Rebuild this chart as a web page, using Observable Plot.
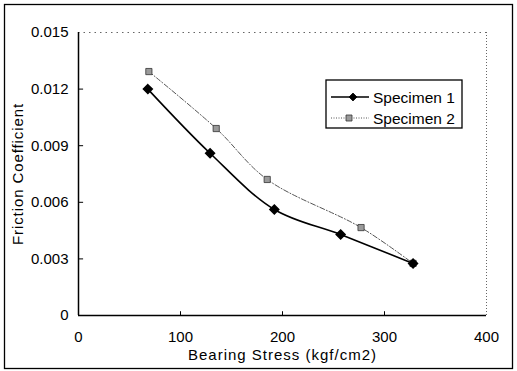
<!DOCTYPE html>
<html>
<head>
<meta charset="utf-8">
<script src="https://cdn.jsdelivr.net/npm/d3@7"></script>
<script src="https://cdn.jsdelivr.net/npm/@observablehq/plot@0.6"></script>
<style>
  html, body { margin: 0; padding: 0; background: #fff; }
  #chart svg { display: block; }
</style>
</head>
<body>
<div id="chart"></div>
<script>
const stress1 = [68, 129, 192, 257, 328];
const friction1 = [0.0120, 0.00860, 0.00562, 0.00429, 0.00276];
const stress2 = [69, 135, 185, 277, 328];
const friction2 = [0.01293, 0.00991, 0.00721, 0.00466, 0.00276];
const seriesNames = ["Specimen 1", "Specimen 2"];
const xTicks = [0, 100, 200, 300, 400];
const yTicks = [0, 0.003, 0.006, 0.009, 0.012, 0.015];
const xTitle = "Bearing Stress (kgf/cm2)";
const yTitle = "Friction Coefficient";

const s1 = stress1.map((x, i) => ({x, y: friction1[i]}));
const s2 = stress2.map((x, i) => ({x, y: friction2[i]}));

const W = 517, H = 371;
const plot = Plot.plot({
  width: W, height: H,
  marginLeft: 78, marginRight: 31, marginTop: 32, marginBottom: 56,
  style: {fontFamily: "'Liberation Sans', Arial, sans-serif", fontSize: "15px", color: "#000", background: "#fff"},
  x: {domain: [0, 400], ticks: xTicks, tickSize: 0, tickPadding: 16, label: null},
  y: {domain: [0, 0.015], ticks: yTicks, tickSize: 0, tickPadding: 10, label: null,
      tickFormat: d => d === 0 ? "0" : d3.format(".3f")(d)},
  marks: [
    Plot.ruleY([0.015], {stroke: "#666", strokeDasharray: "1.5,4"}),
    Plot.ruleX([400], {stroke: "#666", strokeDasharray: "1,2"}),
    Plot.ruleX([0], {stroke: "#000", strokeWidth: 1.5}),
    Plot.ruleY([0], {stroke: "#000", strokeWidth: 1.5}),
    Plot.ruleY(yTicks.slice(1, -1), {x1: 0, x2: 5, stroke: "#000"}),
    Plot.ruleX(xTicks.slice(1, -1), {y1: 0, y2: 0.0002, stroke: "#000"}),
    Plot.line(s2, {x: "x", y: "y", curve: "catmull-rom", stroke: "#555", strokeWidth: 1, strokeDasharray: "5,2,1,2"}),
    Plot.line(s1, {x: "x", y: "y", curve: "catmull-rom", stroke: "#000", strokeWidth: 1.6}),
    Plot.dot(s2, {x: "x", y: "y", symbol: "square", r: 3.5, fill: "#9a9a9a", stroke: "#333", strokeWidth: 0.8}),
    Plot.dot(s1, {x: "x", y: "y", symbol: "diamond2", r: 4, fill: "#000", stroke: "#000"}),
    Plot.text([xTitle], {frameAnchor: "bottom", lineAnchor: "middle", textAnchor: "middle", dy: 40, fill: "#000", fontSize: 15, text: d => d, className: "xtitle"}),
    Plot.text([yTitle], {frameAnchor: "left", lineAnchor: "middle", textAnchor: "middle", dx: -60, rotate: -90, fill: "#000", fontSize: 15, text: d => d, className: "ytitle"})
  ]
});
document.getElementById("chart").appendChild(plot);

const svg = d3.select(plot);
svg.selectAll(".xtitle text").style("letter-spacing", "1px");
svg.selectAll(".ytitle text").style("letter-spacing", "0.9px");
// outer border
svg.append("rect").attr("x", 4.5).attr("y", 4.5).attr("width", 508).attr("height", 364)
  .attr("fill", "none").attr("stroke", "#000").attr("stroke-width", 1.3);
// legend
const lg = svg.append("g").attr("text-anchor", "start");
lg.append("rect").attr("x", 326).attr("y", 80).attr("width", 136).attr("height", 48)
  .attr("fill", "#fff").attr("stroke", "#000").attr("stroke-width", 1.3);
const rows = [
  {y: 97, stroke: "#000", dash: null, sw: 1.6, sym: d3.symbolDiamond2, size: 40, fill: "#000", st: "#000", cx: 353},
  {y: 118, stroke: "#555", dash: "1,1.5", sw: 1, sym: d3.symbolSquare, size: 36, fill: "#9a9a9a", st: "#333", cx: 349}
];
rows.forEach((r, i) => {
  lg.append("line").attr("x1", 331).attr("x2", 369).attr("y1", r.y).attr("y2", r.y)
    .attr("stroke", r.stroke).attr("stroke-width", r.sw).attr("stroke-dasharray", r.dash);
  lg.append("path").attr("d", d3.symbol(r.sym, r.size)()).attr("transform", `translate(${r.cx},${r.y})`)
    .attr("fill", r.fill).attr("stroke", r.st).attr("stroke-width", 0.8);
  lg.append("text").attr("x", 373).attr("y", r.y + 5.5).attr("font-size", 15.5).attr("text-anchor", "start")
    .attr("font-family", "'Liberation Sans', Arial, sans-serif").attr("fill", "#000").text(seriesNames[i]);
});
</script>
</body>
</html>
